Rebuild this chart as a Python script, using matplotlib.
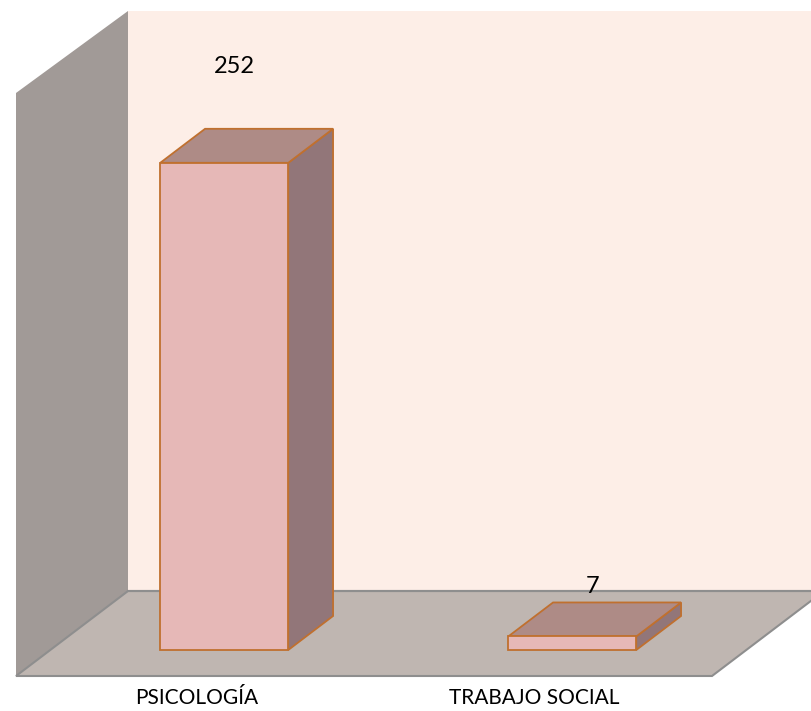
import matplotlib
matplotlib.use("Agg")
import matplotlib.pyplot as plt
from matplotlib.patches import Polygon

# ---- data ----
categories = ["PSICOLOGÍA", "TRABAJO SOCIAL"]
values = [252, 7]
axis_max = 300

# ---- style / geometry ----
S = 580 / 300.0            # pixels per value unit
DX = 112 / 348.0           # full depth shift in category units
DY = 85 / S                # full depth shift in value units
D1, D2 = 26 / 85.0, 60 / 85.0   # bar front/back depth fraction
BW = 128 / 348.0           # bar width (category units)
label_off = [(-0.034, 32.0), (-0.005, 8.5)]
cat_off = [0.02, -0.01]

wall_back = "#FDEEE7"
wall_side = "#A19A97"
floor_col = "#BFB6B1"
edge_gray = "#8E8E8E"
bar_front = "#E6B8B7"
bar_top = "#AE8B86"
bar_side = "#927679"
bar_edge = "#C0702F"

plt.rcParams['font.family'] = ['Lato', 'DejaVu Sans']

fig = plt.figure(figsize=(8.12, 7.11), dpi=100)
ax = fig.add_axes([0, 0, 1, 1])
ax.set_xlim((0 - 16) / 348.0 - 0.5, (812 - 16) / 348.0 - 0.5)
ax.set_ylim((676 - 711) / S, 676 / S)
ax.axis("off")

x0 = -0.5
x1 = len(categories) - 0.5
side_top = axis_max + 3 / S

# back wall
ax.add_patch(Polygon([(x0 + DX, DY), (x1 + 2, DY), (x1 + 2, axis_max + DY),
                      (x0 + DX, axis_max + DY)], closed=True, fc=wall_back, ec="none", zorder=1))
# side wall
ax.add_patch(Polygon([(x0, 0), (x0, side_top), (x0 + DX, axis_max + DY), (x0 + DX, DY)],
                     closed=True, fc=wall_side, ec="none", zorder=1))
# floor
ax.add_patch(Polygon([(x0, 0), (x1, 0), (x1 + DX, DY), (x0 + DX, DY)],
                     closed=True, fc=floor_col, ec=edge_gray, lw=1.5, joinstyle="miter", zorder=1.5))
ax.plot([x0 + DX, x1 + 2], [DY, DY], color=edge_gray, lw=1.5, zorder=1.6)

for i, (cat, v) in enumerate(zip(categories, values)):
    fx = i + D1 * DX - BW / 2
    fy = D1 * DY
    ddx = (D2 - D1) * DX
    ddy = (D2 - D1) * DY
    # side face
    ax.add_patch(Polygon([(fx + BW, fy), (fx + BW + ddx, fy + ddy),
                          (fx + BW + ddx, fy + ddy + v), (fx + BW, fy + v)],
                         closed=True, fc=bar_side, ec=bar_edge, lw=1.3, joinstyle="miter", zorder=3))
    # top face
    ax.add_patch(Polygon([(fx, fy + v), (fx + BW, fy + v), (fx + BW + ddx, fy + v + ddy),
                          (fx + ddx, fy + v + ddy)],
                         closed=True, fc=bar_top, ec=bar_edge, lw=1.3, joinstyle="miter", zorder=3))
    # front face
    ax.add_patch(Polygon([(fx, fy), (fx + BW, fy), (fx + BW, fy + v), (fx, fy + v)],
                         closed=True, fc=bar_front, ec=bar_edge, lw=1.3, joinstyle="miter", zorder=3.1))
    # value label
    cx = i + (D1 + D2) / 2 * DX
    ox, oy = label_off[i]
    ax.text(cx + ox, D2 * DY + v + oy, str(v), ha="center", va="center",
            fontsize=17, color="black", zorder=4)
    # category label
    ax.text(i + cat_off[i], -11.5, cat, ha="center", va="center", fontsize=15, color="black")

fig.savefig("out.png", dpi=100)
